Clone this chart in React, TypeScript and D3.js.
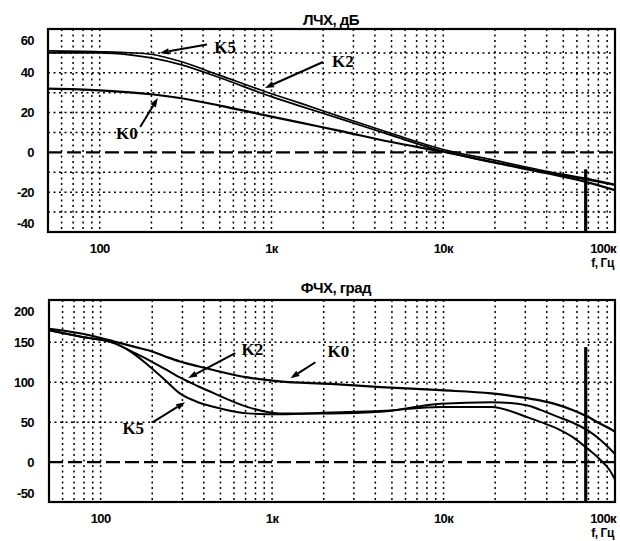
import React from 'react';
import * as d3 from 'd3';

const W = 620;
const H = 541;

// ---------- data ----------
const magFreq = [50, 100, 150, 200, 300, 500, 1000, 1500, 2500, 5000, 10000, 20000, 40000, 70000, 100000];
const magK0 = [32, 31.2, 30.2, 29.2, 27.2, 23.5, 18, 14.8, 10.8, 5.2, 0.3, -5.2, -10.5, -15.2, -19];
const magK2 = [50, 50, 49, 47.5, 44, 37.5, 28, 23, 17, 8.5, 0.5, -5, -10, -13.8, -16.5];
const magK5 = [51, 50.6, 50.1, 49.3, 45.5, 38.7, 29.5, 24.5, 18, 9.5, 1.5, -4, -9.5, -13.3, -16];

const phFreq = [50, 77, 120, 160, 190, 240, 290, 370, 460, 720, 1100, 2200, 4300, 9600, 19000, 31000, 37000, 46000, 57000, 69000, 82000, 93000, 100000];
const phK0 = [167, 161, 151, 144, 140, 132, 126, 120, 115, 106, 101, 98, 94, 90, 86, 80, 77, 72, 65, 57, 48, 42, 38];
const phK2 = [165, 157, 149, 136, 128, 116, 106, 95, 86, 69, 61, 61, 63, 73, 75, 71, 65, 57, 49, 40, 28, 17, 10];
const phK5 = [165, 157, 149, 134, 121, 102, 86, 75, 69, 61, 60, 62, 64, 69, 69, 56, 50, 42, 31, 17, 3, -10, -22];

const xTickValues = [100, 1000, 10000, 100000];
const xTickLabels = ['100', '1к', '10к', '100к'];

const magTicks = [-40, -20, 0, 20, 40, 60];
const magGrid = [-30, -20, -10, 10, 20, 30, 40, 50];
const phTicks = [-50, 0, 50, 100, 150, 200];
const phGrid = [50, 100, 150];

const markerFreq = 67500;
const magMarker = [-8.5, -40];
const phMarker = [144, -50];

// annotations: [label, textFreq, textVal, arrowFromFreq, arrowFromVal, tipFreq, tipVal]
const magNotes: [string, number, number, number, number, number, number][] = [
  ['K5', 537, 53, 421, 54.2, 224, 50],
  ['K2', 2608, 46, 1995, 45.4, 917, 32.4],
  ['K0', 144, 9.7, 172, 12.8, 218, 27.3],
];
const phNotes: [string, number, number, number, number, number, number][] = [
  ['K2', 767, 141.6, 610, 136.6, 324, 105.3],
  ['K0', 2437, 139, 1790, 125, 1279, 105],
  ['K5', 155, 42.6, 202, 50, 311, 75],
];

const sans = '"Liberation Sans", Arial, sans-serif';
const serif = '"Liberation Serif", "Times New Roman", serif';

type PanelProps = {
  id: string;
  left: number; top: number; right: number; bottom: number;
  yDomain: [number, number];
  ticks: number[];
  grid: number[];
  freq: number[];
  series: number[][];
  widths: number[];
  marker: number[];
  notes: [string, number, number, number, number, number, number][];
  title: string;
  titleX: number;
  titleY: number;
};

function Arrow({ x1, y1, x2, y2 }: { x1: number; y1: number; x2: number; y2: number }) {
  const ang = Math.atan2(y2 - y1, x2 - x1);
  const L = 9, Wd = 3.2;
  const bx = x2 - L * Math.cos(ang), by = y2 - L * Math.sin(ang);
  const px = -Math.sin(ang) * Wd, py = Math.cos(ang) * Wd;
  return (
    <g>
      <line x1={x1} y1={y1} x2={bx} y2={by} stroke="#000" strokeWidth={2} />
      <path d={`M${x2},${y2}L${bx + px},${by + py}L${bx - px},${by - py}Z`} fill="#000" />
    </g>
  );
}

function Panel(p: PanelProps) {
  const x = d3.scaleLog().domain([50, 100000]).range([p.left, p.right]);
  const y = d3.scaleLinear().domain(p.yDomain).range([p.bottom, p.top]);
  const vgrid = x.ticks().filter((f) => f > 50 && f < 100000);
  const line = d3.line<[number, number]>()
    .x((d) => x(d[0]))
    .y((d) => y(d[1]))
    .curve(d3.curveMonotoneX);
  const clipId = `clip-${p.id}`;
  return (
    <g>
      <defs>
        <clipPath id={clipId}>
          <rect x={p.left} y={p.top} width={p.right - p.left} height={p.bottom - p.top} />
        </clipPath>
      </defs>
      {vgrid.map((f, i) => (
        <line key={'v' + i} x1={x(f)} x2={x(f)} y1={p.top} y2={p.bottom}
          stroke="#000" strokeWidth={1.5} strokeDasharray="2,3.5" />
      ))}
      {p.grid.map((v, i) => (
        <line key={'h' + i} x1={p.left} x2={p.right} y1={y(v)} y2={y(v)}
          stroke="#000" strokeWidth={1.5} strokeDasharray="2,3.5" />
      ))}
      <line x1={p.left} x2={p.right} y1={y(0)} y2={y(0)} stroke="#000" strokeWidth={2.2} strokeDasharray="14,5" />
      <g clipPath={`url(#${clipId})`}>
        {p.series.map((s, i) => (
          <path key={'s' + i} d={line(p.freq.map((f, j) => [f, s[j]] as [number, number])) || ''}
            fill="none" stroke="#000" strokeWidth={p.widths[i]} />
        ))}
      </g>
      <line x1={x(markerFreq)} x2={x(markerFreq)} y1={y(p.marker[0])} y2={y(p.marker[1])} stroke="#000" strokeWidth={3.2} />
      <rect x={p.left} y={p.top} width={p.right - p.left} height={p.bottom - p.top}
        fill="none" stroke="#000" strokeWidth={2.2} />
      {p.ticks.map((v, i) => {
        const yy = Math.max(p.top + 11, Math.min(p.bottom - 9, y(v)));
        return (
          <text key={'yt' + i} x={34} y={yy} dy="0.36em" textAnchor="end"
            fontFamily={sans} fontWeight="bold" fontSize={13} letterSpacing={-0.6}>{v}</text>
        );
      })}
      {xTickValues.map((f, i) => {
        const last = i === xTickValues.length - 1;
        return (
          <text key={'xt' + i} x={last ? p.right + 1 : x(f)} y={p.bottom + 21}
            textAnchor={last ? 'end' : 'middle'}
            fontFamily={sans} fontWeight="bold" fontSize={13} letterSpacing={-0.6}>{xTickLabels[i]}</text>
        );
      })}
      <text x={p.right - 1} y={p.bottom + 35} textAnchor="end" fontFamily={sans} fontWeight="bold" fontSize={12} letterSpacing={-0.4}>f, Гц</text>
      <text x={p.titleX} y={p.titleY} textAnchor="middle" fontFamily={sans} fontWeight="bold" fontSize={15} letterSpacing={-0.5}>{p.title}</text>
      {p.notes.map((n, i) => (
        <g key={'n' + i}>
          <Arrow x1={x(n[3])} y1={y(n[4])} x2={x(n[5])} y2={y(n[6])} />
          <text x={x(n[1])} y={y(n[2])} dy="0.36em" textAnchor="middle"
            fontFamily={serif} fontWeight="bold" fontSize={17}>{n[0]}</text>
        </g>
      ))}
    </g>
  );
}

export default function App() {
  return (
    <svg width={W} height={H} viewBox={`0 0 ${W} ${H}`}
      style={{ position: 'absolute', left: 0, top: 0, display: 'block', background: '#fff' }}>
      <rect x={0} y={0} width={W} height={H} fill="#fff" />
      <Panel id="mag" left={48} top={29} right={615} bottom={232}
        yDomain={[-40, 62]} ticks={magTicks} grid={magGrid}
        freq={magFreq} series={[magK0, magK2, magK5]} widths={[2.2, 1.8, 1.6]}
        marker={magMarker} notes={magNotes}
        title="ЛЧХ, дБ" titleX={331} titleY={25} />
      <Panel id="ph" left={49} top={300} right={615} bottom={502}
        yDomain={[-50, 203]} ticks={phTicks} grid={phGrid}
        freq={phFreq} series={[phK0, phK2, phK5]} widths={[2.2, 2, 2]}
        marker={phMarker} notes={phNotes}
        title="ФЧХ, град" titleX={336} titleY={293} />
    </svg>
  );
}
